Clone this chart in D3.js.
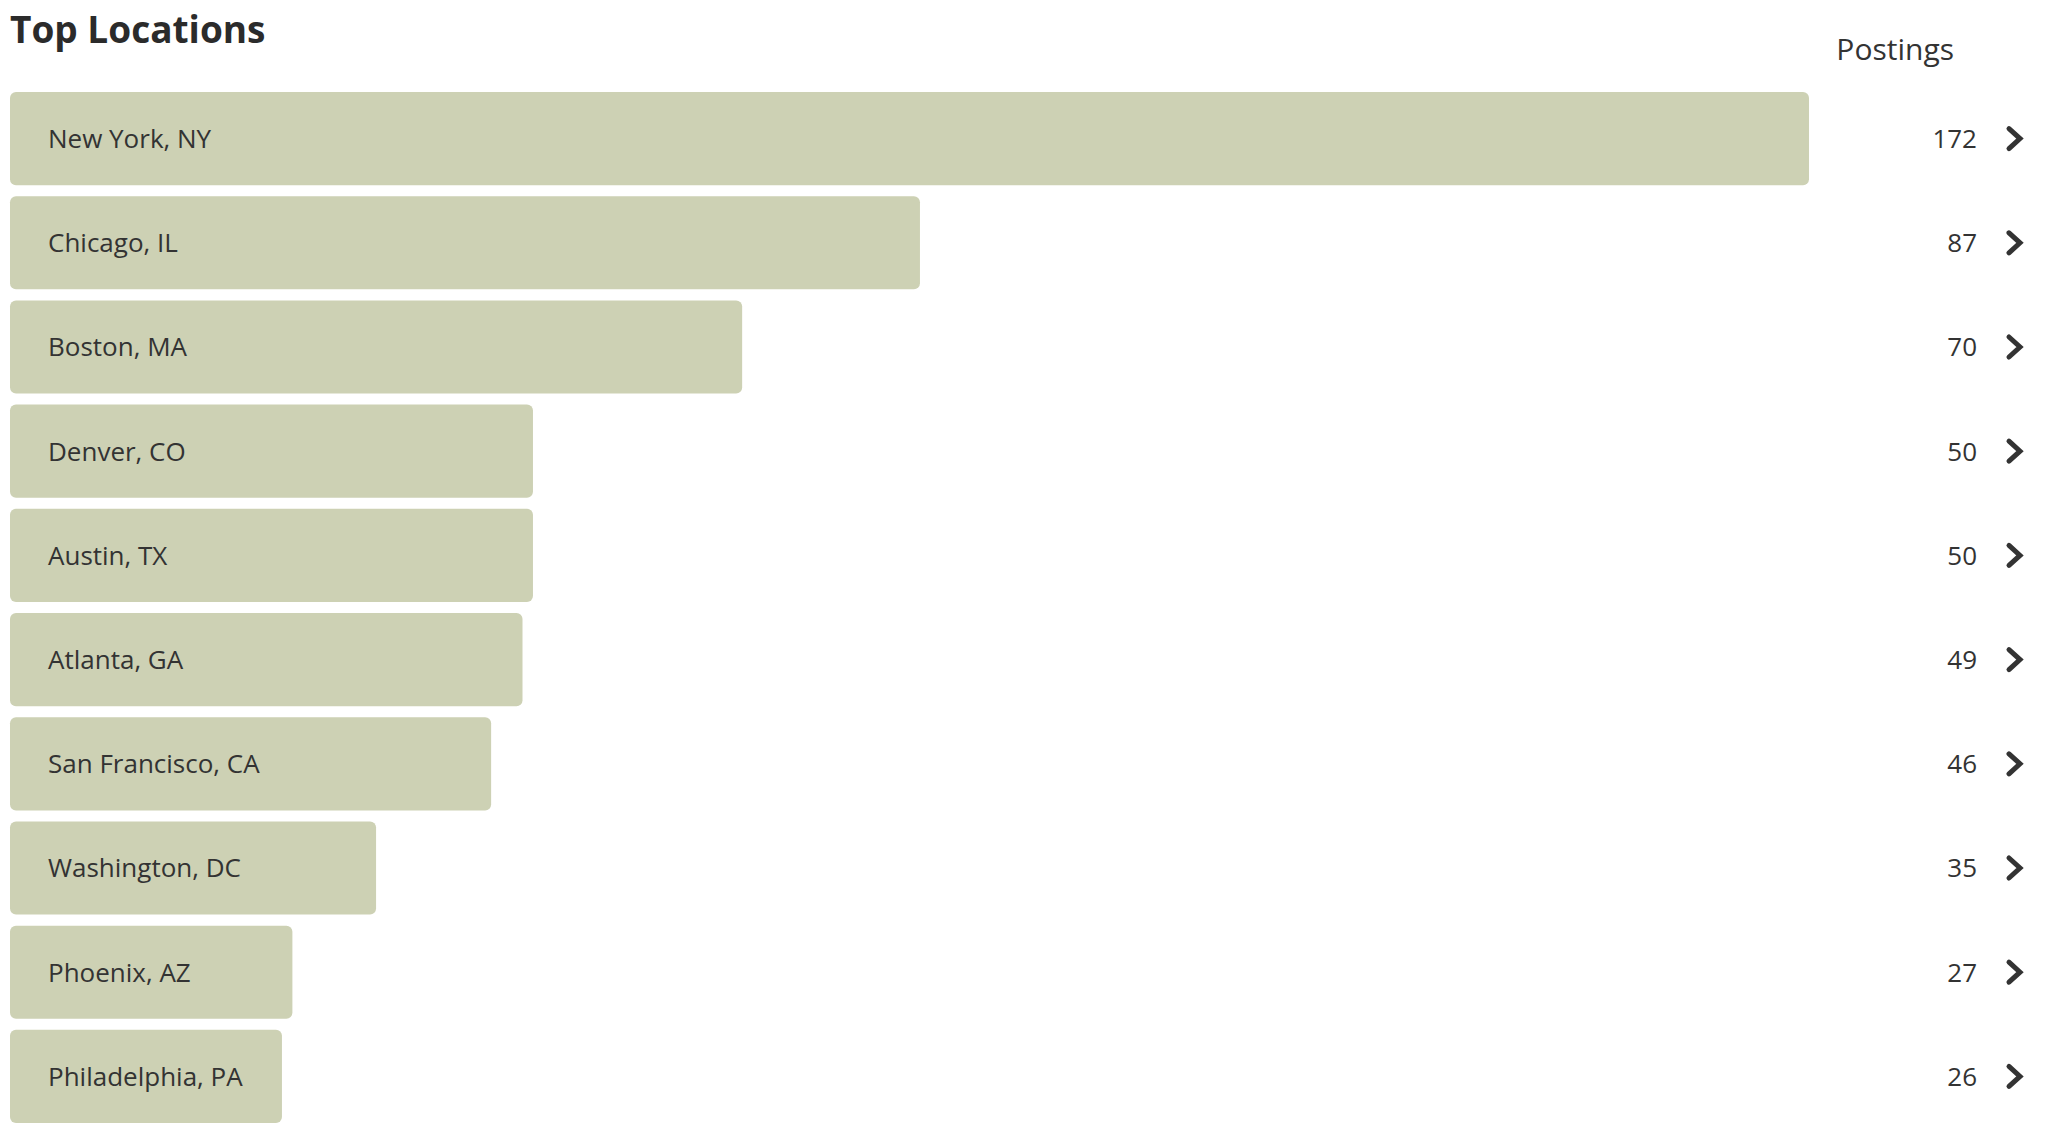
<!DOCTYPE html>
<html>
<head>
<meta charset="utf-8">
<script src="https://cdn.jsdelivr.net/npm/d3@7"></script>
<style>
  body { margin: 0; background: #fff; font-family: "Open Sans", sans-serif; }
  .title { font-size: 37px; font-weight: 700; fill: #2b2b2b; }
  .header { font-size: 30px; fill: #333; }
  .label { font-size: 26px; fill: #333; }
  .value { font-size: 26px; fill: #333; }
  .bar { fill: #cdd1b4; }
  .chevron { fill: none; stroke: #333; stroke-width: 5; stroke-linejoin: miter; stroke-linecap: round; }
</style>
</head>
<body>
<div class="visualization"></div>
<script>
const locations = [
  "New York, NY",
  "Chicago, IL",
  "Boston, MA",
  "Denver, CO",
  "Austin, TX",
  "Atlanta, GA",
  "San Francisco, CA",
  "Washington, DC",
  "Phoenix, AZ",
  "Philadelphia, PA",
];
const postings = [172, 87, 70, 50, 50, 49, 46, 35, 27, 26];

const chartTitle = "Top Locations";
const valueHeader = "Postings";

const width = 2048;
const height = 1140;

let data = locations.map((d, i) => ({ name: d, count: postings[i] }));

let svg = d3
  .select(".visualization")
  .append("svg")
  .attr("width", width)
  .attr("height", height);

//Title
svg
  .append("text")
  .attr("class", "title")
  .attr("x", 10)
  .attr("y", 43)
  .text(chartTitle);

// column header over the counts
svg
  .append("text")
  .attr("class", "header")
  .attr("x", 1954)
  .attr("y", 60)
  .attr("text-anchor", "end")
  .text(valueHeader);

let xScale = d3
  .scaleLinear()
  .domain([0, d3.max(data, (d) => d.count)])
  .range([10, 1809]);

let yScale = d3
  .scaleBand()
  .domain(locations)
  .range([92, 1123])
  .paddingInner(0.106)
  .paddingOuter(0);

const rows = svg
  .selectAll(".row")
  .data(data)
  .enter()
  .append("g")
  .attr("class", "row")
  .attr("transform", (d) => `translate(0, ${yScale(d.name)})`);

rows
  .append("rect")
  .attr("class", "bar")
  .attr("x", xScale(0))
  .attr("y", 0)
  .attr("rx", 6)
  .attr("ry", 6)
  .attr("width", (d) => xScale(d.count) - xScale(0))
  .attr("height", yScale.bandwidth());

rows
  .append("text")
  .attr("class", "label")
  .attr("x", 48)
  .attr("y", yScale.bandwidth() / 2)
  .attr("dy", "0.36em")
  .text((d) => d.name);

rows
  .append("text")
  .attr("class", "value")
  .attr("x", 1977)
  .attr("y", yScale.bandwidth() / 2)
  .attr("dy", "0.36em")
  .attr("text-anchor", "end")
  .text((d) => d.count);

// little arrow on the right of every row
rows
  .append("path")
  .attr("class", "chevron")
  .attr("d", () => {
    const c = yScale.bandwidth() / 2;
    return `M2009,${c - 10} L2020,${c} L2009,${c + 10}`;
  });
</script>
</body>
</html>
